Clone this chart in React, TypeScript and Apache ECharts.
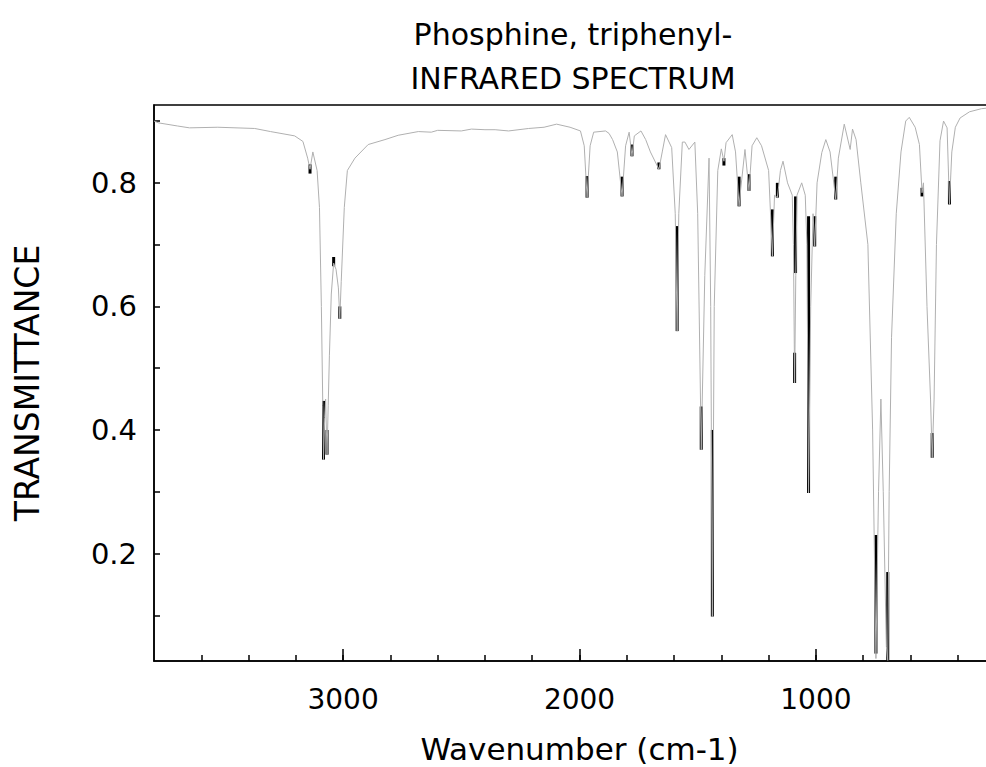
import React, { useEffect, useRef } from "react";
import * as echarts from "echarts";

// Spectrum trace (wavenumber cm-1, transmittance)
const wavenumbers = [
  3800, 3780, 3700, 3650, 3530, 3374, 3307, 3205, 3170, 3150, 3140, 3128, 3110, 3100, 3092, 3086, 3083,
  3078, 3074, 3068, 3063, 3058, 3050, 3040, 3030, 3020, 3014, 3008, 2995, 2982, 2950, 2894, 2823, 2767,
  2682, 2627, 2600, 2500, 2457, 2400, 2357, 2300, 2215, 2150, 2097, 2040, 1996, 1980, 1968, 1955, 1940,
  1890, 1875, 1860, 1840, 1820, 1805, 1790, 1778, 1768, 1740, 1720, 1700, 1664, 1650, 1636, 1610, 1595,
  1587, 1580, 1565, 1554, 1537, 1512, 1500, 1485, 1470, 1452, 1445, 1438, 1430, 1415, 1400, 1389, 1380,
  1354, 1340, 1325, 1318, 1300, 1283, 1270, 1250, 1230, 1200, 1184, 1175, 1163, 1150, 1139, 1120, 1100,
  1095, 1090, 1085, 1080, 1060, 1045, 1038, 1031, 1022, 1012, 1005, 995, 975, 958, 940, 916, 905, 880,
  855, 845, 830, 810, 780, 760, 746, 735, 725, 715, 702, 696, 690, 680, 660, 640, 620, 605, 580, 562,
  551, 545, 530, 515, 508, 500, 490, 475, 460, 445, 435, 425, 410, 390, 350, 300, 250,
];
const transmittance = [
  0.9, 0.897, 0.892, 0.889, 0.89, 0.888, 0.883, 0.876, 0.867, 0.84, 0.822, 0.85, 0.82, 0.76, 0.6, 0.44, 0.352,
  0.42, 0.45, 0.36, 0.44, 0.52, 0.62, 0.67, 0.66, 0.63, 0.58, 0.64, 0.76, 0.82, 0.84, 0.862, 0.87, 0.877,
  0.883, 0.882, 0.885, 0.884, 0.887, 0.886, 0.886, 0.884, 0.888, 0.89, 0.895, 0.89, 0.884, 0.86, 0.776, 0.86, 0.882,
  0.884, 0.88, 0.87, 0.85, 0.778, 0.86, 0.882, 0.843, 0.876, 0.884, 0.87, 0.85, 0.822, 0.85, 0.878, 0.857, 0.75,
  0.56, 0.75, 0.866, 0.866, 0.854, 0.866, 0.75, 0.368, 0.65, 0.84, 0.6, 0.098, 0.6, 0.82, 0.855, 0.835, 0.865,
  0.878, 0.85, 0.762, 0.79, 0.854, 0.787, 0.86, 0.873, 0.86, 0.82, 0.681, 0.78, 0.776, 0.82, 0.835, 0.8, 0.78,
  0.7, 0.476, 0.65, 0.78, 0.8, 0.78, 0.7, 0.298, 0.6, 0.75, 0.697, 0.8, 0.849, 0.87, 0.85, 0.773, 0.84, 0.895,
  0.854, 0.887, 0.87, 0.8, 0.7, 0.4, 0.03, 0.3, 0.45, 0.3, 0.05, 0.027, 0.3, 0.55, 0.75, 0.85, 0.9, 0.906, 0.89, 0.862,
  0.784, 0.8, 0.6, 0.45, 0.355, 0.45, 0.7, 0.868, 0.9, 0.889, 0.765, 0.85, 0.89, 0.905, 0.915, 0.92, 0.922,
];

// Strongly inked parts of the trace
const bandWavenumber = [3140, 3083, 3068, 3040, 3014, 1968, 1820, 1778, 1664, 1587, 1485, 1438, 1389, 1325, 1283, 1184, 1163, 1086, 1090, 1031, 1005, 916, 746, 696, 551, 508, 435];
const bandTop = [0.83, 0.447, 0.4, 0.68, 0.6, 0.811, 0.81, 0.862, 0.833, 0.73, 0.438, 0.4, 0.84, 0.81, 0.814, 0.757, 0.8, 0.778, 0.525, 0.746, 0.746, 0.81, 0.23, 0.17, 0.792, 0.395, 0.803];
const bandBottom = [0.815, 0.352, 0.36, 0.665, 0.58, 0.776, 0.778, 0.843, 0.822, 0.56, 0.368, 0.098, 0.828, 0.762, 0.787, 0.681, 0.776, 0.654, 0.476, 0.298, 0.697, 0.773, 0.038, 0.027, 0.778, 0.355, 0.765];

const xLabelValues = [1000, 2000, 3000];
const xMinorTicks = [400, 600, 800, 1000, 1200, 1400, 1600, 1800, 2000, 2200, 2400, 2600, 2800, 3000, 3200, 3400, 3600];
const yLabelValues = [0.2, 0.4, 0.6, 0.8];
const yTicks = [0.1, 0.2, 0.3, 0.4, 0.5, 0.6, 0.7, 0.8, 0.9];

const FONT = "DejaVu Sans";

export default function App() {
  const ref = useRef<HTMLDivElement>(null);
  useEffect(() => {
    if (!ref.current) return;
    const chart = echarts.init(ref.current, undefined, { renderer: "svg" });
    const spectrum = wavenumbers.map((w, i) => [w, transmittance[i]]);
    const bands = bandWavenumber.map((w, i) => [w, bandTop[i], bandBottom[i]]);
    chart.setOption({
      animation: false,
      backgroundColor: "#fff",
      textStyle: { fontFamily: FONT },
      graphic: [
        { type: "text", x: 573, y: 34, style: { text: "Phosphine, triphenyl-", font: `30px '${FONT}'`, fill: "#000", textAlign: "center", textVerticalAlign: "middle" } },
        { type: "text", x: 573, y: 78, style: { text: "INFRARED SPECTRUM", font: `30px '${FONT}'`, fill: "#000", textAlign: "center", textVerticalAlign: "middle" } },
      ],
      grid: { left: 154, top: 105, width: 851, bottom: 106, show: true, borderColor: "#000", borderWidth: 1.5, backgroundColor: "transparent", outerBoundsMode: "none", containLabel: false },
      xAxis: [
        {
          type: "value", inverse: true, min: 200, max: 3800,
          name: "Wavenumber (cm-1)", nameLocation: "middle", nameGap: 72,
          nameTextStyle: { fontSize: 31, color: "#000", fontFamily: FONT },
          axisLine: { show: true, lineStyle: { color: "#000", width: 1.5 } },
          axisTick: { show: true, inside: true, length: 6, customValues: xMinorTicks, lineStyle: { color: "#000", width: 1.5 } },
          axisLabel: { show: true, customValues: xLabelValues, fontSize: 28, color: "#000", margin: 24, fontFamily: FONT, formatter: (v: number) => String(v) },
          splitLine: { show: false },
        },
        {
          type: "value", inverse: true, min: 200, max: 3800, position: "bottom", gridIndex: 0,
          axisLine: { show: false },
          axisTick: { show: true, inside: true, length: 12, customValues: xLabelValues, lineStyle: { color: "#000", width: 1.5 } },
          axisLabel: { show: false },
          splitLine: { show: false },
        },
      ],
      yAxis: {
        type: "value", min: 0.026, max: 0.926,
        name: "TRANSMITTANCE", nameLocation: "middle", nameGap: 110,
        nameTextStyle: { fontSize: 33, color: "#000", fontFamily: FONT },
        axisLine: { show: true, lineStyle: { color: "#000", width: 1.5 } },
        axisTick: { show: true, inside: true, length: 6, customValues: yTicks, lineStyle: { color: "#000", width: 1.5 } },
        axisLabel: { show: true, customValues: yLabelValues, fontSize: 29, color: "#000", margin: 17, fontFamily: FONT, formatter: (v: number) => v.toFixed(1) },
        splitLine: { show: false },
      },
      series: [
        {
          type: "line", data: spectrum, showSymbol: false, symbol: "none", smooth: false,
          lineStyle: { color: "#b0b0b0", width: 1 }, xAxisIndex: 0,
        },
        {
          type: "custom", data: bands, xAxisIndex: 0,
          encode: { x: 0, y: [1, 2] },
          renderItem: (params: any, api: any) => {
            const p1 = api.coord([api.value(0), api.value(1)]);
            const p2 = api.coord([api.value(0), api.value(2)]);
            return { type: "line", shape: { x1: p1[0], y1: p1[1], x2: p2[0], y2: p2[1] }, style: { stroke: "#000", lineWidth: 3 } };
          },
        },
      ],
    });
    return () => chart.dispose();
  }, []);
  return <div ref={ref} style={{ position: "fixed", left: 0, top: 0, width: 986, height: 767 }} />;
}
